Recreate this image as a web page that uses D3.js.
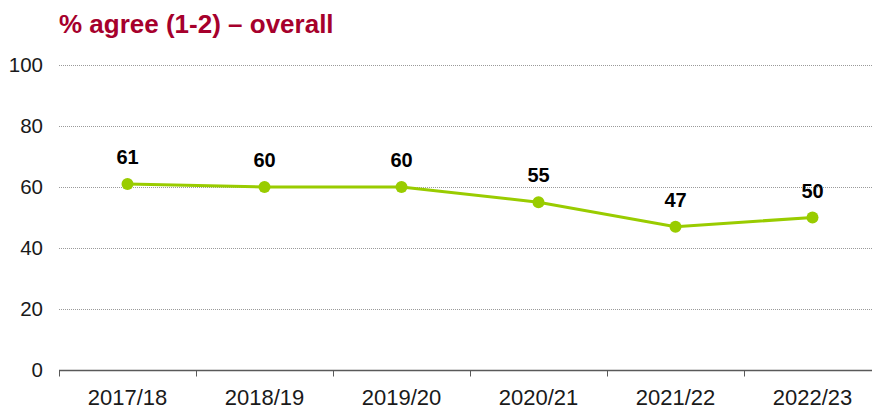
<!DOCTYPE html>
<html>
<head>
<meta charset="utf-8">
<script src="https://cdn.jsdelivr.net/npm/d3@7"></script>
<style>
  body { margin: 0; background: #fff; }
  svg { display: block; font-family: Arial, "Liberation Sans", sans-serif; }
</style>
</head>
<body>
<div id="chart"></div>
<script>
// chart data
var years = ["2017/18", "2018/19", "2019/20", "2020/21", "2021/22", "2022/23"];
var agree = [61, 60, 60, 55, 47, 50];
var yTicks = [0, 20, 40, 60, 80, 100];
var title = "% agree (1-2) \u2013 overall";

var w = 872, h = 408;
var plotLeft = 59, plotTop = 65, plotH = 305;
var band = 137;   // each category slot, the last one runs off the right edge

var svg = d3.select("#chart").append("svg")
	.attr("width", w)
	.attr("height", h);

var x = d3.scaleBand()
	.domain(years)
	.range([plotLeft, plotLeft + band * years.length])
	.padding(0);

var y = d3.scaleLinear()
	.domain([0, 100])
	.range([plotTop + plotH, plotTop]);

// title
svg.append("text")
	.attr("x", plotLeft)
	.attr("y", 33)
	.attr("fill", "#A6002C")
	.style("font-size", "26px")
	.style("font-weight", "bold")
	.text(title);

// gridlines (dotted)
svg.append("g")
	.selectAll("line")
	.data(yTicks.filter(function(d) { return d > 0; }))
	.enter().append("line")
	.attr("x1", plotLeft)
	.attr("x2", w)
	.attr("y1", function(d) { return y(d) + 0.5; })
	.attr("y2", function(d) { return y(d) + 0.5; })
	.attr("stroke", "#9a9a9a")
	.attr("stroke-width", 1)
	.attr("stroke-dasharray", "1,1");

// y tick labels
svg.append("g")
	.selectAll("text")
	.data(yTicks)
	.enter().append("text")
	.attr("x", plotLeft - 16)
	.attr("y", function(d) { return y(d); })
	.attr("dy", "0.35em")
	.attr("text-anchor", "end")
	.attr("fill", "#1a1a1a")
	.style("font-size", "20.5px")
	.text(function(d) { return d; });

// x axis with tick marks between categories
var xAxis = svg.append("g")
	.attr("transform", "translate(0," + (y(0) + 0.5) + ")");

xAxis.append("line")
	.attr("x1", plotLeft)
	.attr("x2", w)
	.attr("stroke", "#595959")
	.attr("stroke-width", 1.3);

var edges = d3.range(years.length).map(function(i) { return x(years[i]); });
xAxis.selectAll(".tick")
	.data(edges)
	.enter().append("line")
	.attr("class", "tick")
	.attr("x1", function(d) { return d + 0.5; })
	.attr("x2", function(d) { return d + 0.5; })
	.attr("y1", 0)
	.attr("y2", 6)
	.attr("stroke", "#595959")
	.attr("stroke-width", 1);

xAxis.selectAll(".lbl")
	.data(years)
	.enter().append("text")
	.attr("class", "lbl")
	.attr("x", function(d) { return x(d) + x.bandwidth() / 2; })
	.attr("y", 34)
	.attr("text-anchor", "middle")
	.attr("fill", "#1a1a1a")
	.style("font-size", "22px")
	.text(function(d) { return d; });

// the line
var pts = years.map(function(d, i) { return {year: d, value: agree[i]}; });

var line = d3.line()
	.x(function(d) { return x(d.year) + x.bandwidth() / 2; })
	.y(function(d) { return y(d.value); });

svg.append("path")
	.datum(pts)
	.attr("d", line)
	.attr("fill", "none")
	.attr("stroke", "#99CC00")
	.attr("stroke-width", 3);

svg.append("g")
	.selectAll("circle")
	.data(pts)
	.enter().append("circle")
	.attr("cx", function(d) { return x(d.year) + x.bandwidth() / 2; })
	.attr("cy", function(d) { return y(d.value); })
	.attr("r", 6)
	.attr("fill", "#99CC00");

// value labels
svg.append("g")
	.selectAll("text")
	.data(pts)
	.enter().append("text")
	.attr("x", function(d) { return x(d.year) + x.bandwidth() / 2; })
	.attr("y", function(d) { return y(d.value) - 20; })
	.attr("text-anchor", "middle")
	.attr("fill", "#000")
	.style("font-size", "20px")
	.style("font-weight", "bold")
	.text(function(d) { return d.value; });
</script>
</body>
</html>
